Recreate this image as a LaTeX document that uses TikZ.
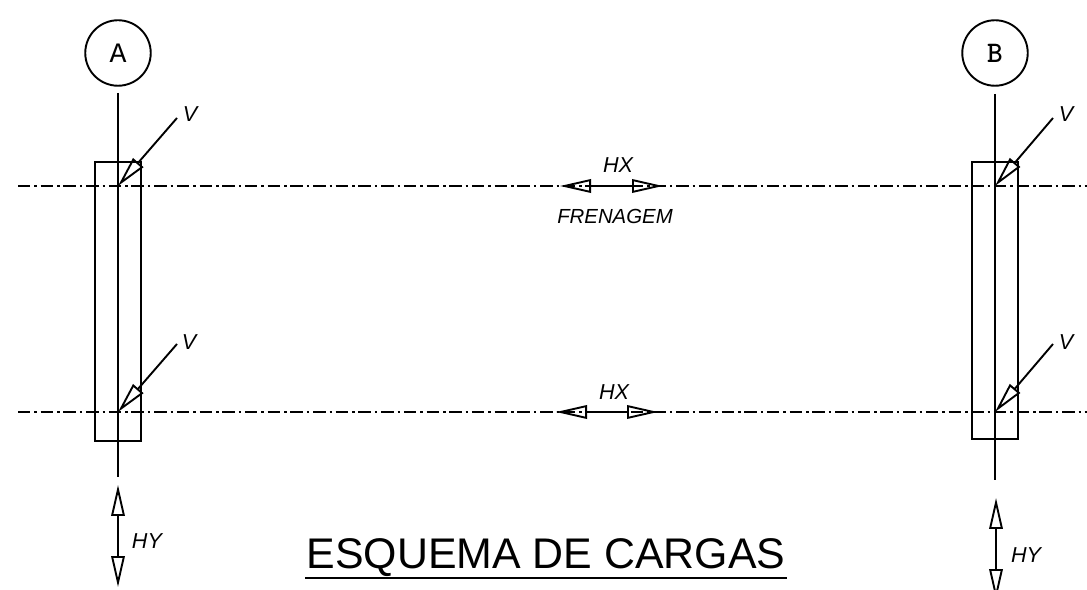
\documentclass[tikz,border=0pt]{standalone}
\usepackage{fontspec}
\setmainfont{Liberation Sans}
\newfontfamily\gridfont{Liberation Mono}
\usetikzlibrary{arrows.meta}
\tikzset{
    member/.style={line width=0.038cm, line cap=butt},
    centerline/.style={line width=0.04cm, dash pattern=on 0.25cm off 0.08cm on 0.05cm off 0.074cm},
    load/.style={line width=0.038cm, -{Triangle[open,length=0.62cm,width=0.27cm]}},
    loadboth/.style={line width=0.038cm, {Triangle[open,length=0.62cm,width=0.27cm]}-{Triangle[open,length=0.62cm,width=0.27cm]}},
    gridmark/.style={circle, draw, line width=0.038cm, minimum size=1.31cm, inner sep=0pt, font=\gridfont\fontsize{16}{16}\selectfont},
    loadname/.style={inner sep=0pt, font=\itshape\fontsize{12.3}{12}\selectfont},
}
\begin{document}
\begin{tikzpicture}[x=0.02cm,y=-0.02cm]
    \useasboundingbox (0,0) rectangle (1087,590);
    \clip (0,0) rectangle (1087,590);

    % grid marks
    \node[gridmark] (markA) at (118,53) {A};
    \node[gridmark, font=\ttfamily\bfseries\fontsize{17}{17}\selectfont] (markB) at (995,53) {B};

    % end points of the axes
    \coordinate (axisAtop) at (118,93);
    \coordinate (axisAbot) at (118,477);
    \coordinate (axisBtop) at (995,94);
    \coordinate (axisBbot) at (995,480);
    \coordinate (trackTl) at (18,186);
    \coordinate (trackTr) at (1087,186);
    \coordinate (trackBl) at (18,412);
    \coordinate (trackBr) at (1087,412);

    % columns
    \draw[member] (axisAtop) -- (axisAbot);
    \draw[member] (axisBtop) -- (axisBbot);
    \draw[member] (95,162) rectangle (141,441);
    \draw[member] (972,162) rectangle (1018,439);

    % horizontal center lines
    \draw[centerline] (trackTl) -- (trackTr);
    \draw[centerline] (trackBl) -- (trackBr);

    % vertical loads
    \coordinate (crossAt) at (118,186);
    \coordinate (crossAb) at (118,412);
    \coordinate (crossBt) at (995,186);
    \coordinate (crossBb) at (995,412);
    \coordinate (vAt) at (177,118);
    \coordinate (vAb) at (177,344);
    \coordinate (vBt) at (1053,118);
    \coordinate (vBb) at (1053,344);
    \draw[load] (vAt) -- (crossAt);
    \draw[load] (vAb) -- (crossAb);
    \draw[load] (vBt) -- (crossBt);
    \draw[load] (vBb) -- (crossBb);
    \node[loadname] (labelVAt) at (190,114) {V};
    \node[loadname] (labelVAb) at (189,342) {V};
    \node[loadname] (labelVBt) at (1066,114) {V};
    \node[loadname] (labelVBb) at (1066,342) {V};

    % braking loads
    \coordinate (hxTl) at (560,186);
    \coordinate (hxTr) at (663,186);
    \coordinate (hxBl) at (556,412);
    \coordinate (hxBr) at (658,412);
    \draw[loadboth] (hxTl) -- (hxTr);
    \draw[loadboth] (hxBl) -- (hxBr);
    \node[loadname] (labelHXt) at (618,165) {HX};
    \node[loadname] (labelHXb) at (614,392) {HX};
    \node[loadname, font=\itshape\fontsize{11.6}{12}\selectfont] (labelBrake) at (615,216) {FRENAGEM};

    % transverse loads
    \coordinate (hyAt) at (118,485);
    \coordinate (hyAb) at (118,587);
    \coordinate (hyBt) at (996,498);
    \coordinate (hyBb) at (996,600);
    \draw[loadboth] (hyAt) -- (hyAb);
    \draw[loadboth] (hyBt) -- (hyBb);
    \node[loadname] (labelHYa) at (147,541) {HY};
    \node[loadname] (labelHYb) at (1026,555) {HY};

    % title
    \node[inner sep=0pt, anchor=base, font=\fontsize{24.4}{25}\selectfont] (title) at (546,568) {ESQUEMA DE CARGAS};
    \coordinate (ruleL) at (305,578);
    \coordinate (ruleR) at (787,578);
    \draw[line width=0.05cm] (ruleL) -- (ruleR);
\end{tikzpicture}
\end{document}
